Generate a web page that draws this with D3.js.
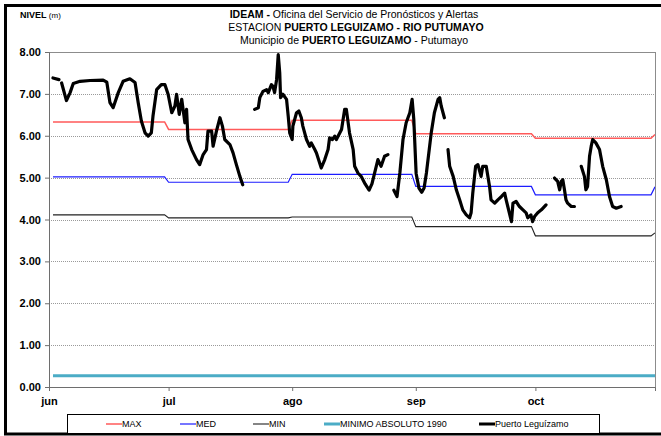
<!DOCTYPE html>
<html>
<head>
<meta charset="utf-8">
<script src="https://cdn.jsdelivr.net/npm/d3@7"></script>
<style>
body { margin: 0; background: #fff; }
svg { display: block; font-family: "Liberation Sans Narrow", "Arial Narrow", "Liberation Sans", sans-serif; }
</style>
</head>
<body>
<div id="chart"></div>
<script>
// month labels on the x axis (first day of each month)
var monthTicks = ['2013-06-01', '2013-07-01', '2013-08-01', '2013-09-01', '2013-10-01'];
var monthNames = ['jun', 'jul', 'ago', 'sep', 'oct'];
var yTicks = [0, 1, 2, 3, 4, 5, 6, 7, 8];

// reference levels, one value per month (last entry = november start)
var levelMonths = ['2013-06-02', '2013-07-01', '2013-08-01', '2013-09-01', '2013-10-01', '2013-10-31'];
var maxLevels = [6.33, 6.15, 6.37, 6.05, 5.94, 6.03];
var medLevels = [5.02, 4.89, 5.08, 4.79, 4.59, 4.78];
var minLevels = [4.11, 4.04, 4.06, 3.83, 3.61, 3.68];
var minAbs1990 = 0.27;

// observed level at Puerto Leguizamo: days since 1 jun, level in m (null = gap)
var obsDay = [1, 2.5, null,
  3.2, 4.4, 5.3, 6.1, 7.8, 10.3, 13.6, 14.5, 15.3, 16.1, 17.4, 18.6, 20.3, 21.6, 22.4, 23.2, 24.1, 24.9, 25.7,
  26.1, 27, 28.2, 29.1, 29.9, 30.8, 31.6, 32, 32.7, 33.3, 34.1, 34.5, 34.9, 35.8, 37, 37.8, 38.7, 39.5, 39.9,
  40.8, 41.2, 42, 42.9, 43.5, 44.1, 45.4, 46.2, 47, 47.9, 48.6, null,
  51.6, 52.5, 52.9, 53.7, 54.6, 55, 55.8, 56.2, 56.6, 57.1, 57.5, 57.9, 58.1, 58.7, 59.6, 60, 60.4, 61, 61.2,
  62.1, 62.7, 63.3, 63.7, 64.6, 65.4, 65.8, 66.7, 67.1, 68.3, 69.2, 70, 70.4, 71.1, 71.7, 72.1, 72.5, 73.4,
  74.2, 74.6, 75.4, 76.3, 76.7, 77.5, 78.3, 79.3, 80.3, 81, 81.7, 82.5, 83.3, 84.2, 85, null,
  86.5, 87.3, 88, 88.8, 89.6, 90.5, 91.1, 91.5, 92.1, 92.8, 93.5, 94.1, 94.7, 95.9, 96.7, 97.6, 98, 98.4, 99.2, null,
  100.1, 100.5, 101.4, 102.2, 103, 103.8, 104.7, 105.5, 105.9, 106.3, 107, 107.6, 108.4, 108.8, 109.7, 110.5,
  110.9, 111.8, 112.6, 113.5, 114.3, 114.7, 116, 116.4, 117.2, 118, 118.9, 119.7, 120.1, 120.9, 121.3, 121.8,
  122.6, 123.5, 124.7, null,
  126.8, 127.6, 128.1, 128.5, 128.9, 129.3, 129.7, 130.1, 131, 131.8, null,
  133.5, 134.3, 134.7, 135.1, 135.6, 136, 136.4, 137.2, 138.1, 138.9, 139.8, 140.6, 141.4, 142.3, 143.5];
var obsLevel = [7.38, 7.34, null,
  7.26, 6.84, 7.03, 7.25, 7.30, 7.32, 7.33, 7.28, 6.79, 6.67, 7.03, 7.30, 7.36, 7.27, 6.79, 6.35, 6.07, 5.99, 6.07,
  6.47, 7.10, 7.22, 7.22, 6.99, 6.55, 6.71, 6.99, 6.51, 6.87, 6.31, 6.63, 5.91, 5.67, 5.43, 5.31, 5.55, 5.67, 6.11,
  6.11, 5.75, 6.11, 6.43, 6.23, 5.91, 5.79, 5.59, 5.31, 5.03, 4.83, null,
  6.63, 6.67, 6.91, 7.06, 7.10, 7.03, 7.22, 7.18, 7.03, 7.34, 7.94, 7.50, 6.91, 6.99, 6.87, 6.47, 6.07, 5.91, 6.23,
  6.55, 6.59, 6.43, 6.23, 5.91, 5.75, 5.83, 5.67, 5.59, 5.23, 5.43, 5.67, 5.95, 5.91, 5.99, 5.91, 5.99, 6.15,
  6.63, 6.63, 6.07, 5.67, 5.27, 5.11, 5.03, 4.85, 4.70, 4.85, 5.11, 5.43, 5.27, 5.51, 5.55, null,
  4.70, 4.55, 5.11, 5.91, 6.31, 6.55, 6.87, 6.39, 5.10, 4.75, 4.65, 4.75, 5.11, 6.07, 6.55, 6.87, 6.91, 6.71, 6.43, null,
  5.67, 5.27, 5.03, 4.71, 4.47, 4.23, 4.11, 4.04, 4.16, 4.63, 5.27, 5.31, 5.03, 5.27, 5.27, 4.79,
  4.47, 4.39, 4.47, 4.55, 4.63, 4.47, 3.95, 4.39, 4.43, 4.31, 4.23, 4.16, 4.04, 4.11, 3.95, 4.07,
  4.16, 4.23, 4.35, null,
  4.99, 4.91, 4.71, 4.91, 4.95, 4.71, 4.47, 4.39, 4.31, 4.31, null,
  5.27, 5.03, 4.71, 4.79, 5.51, 5.75, 5.91, 5.83, 5.67, 5.27, 4.95, 4.55, 4.31, 4.27, 4.31];

var width = 661, height = 436;
var margin = {top: 52, right: 6, bottom: 49, left: 49};
var plotW = width - margin.left - margin.right,
    plotH = height - margin.top - margin.bottom;

var parseDate = d3.timeParse('%Y-%m-%d');
var startDate = parseDate('2013-06-01');

var x = d3.scaleTime()
    .domain([startDate, parseDate('2013-10-31')])
    .range([0, plotW]);
var y = d3.scaleLinear()
    .domain([0, 8])
    .range([plotH, 0]);

var svg = d3.select('#chart').append('svg')
    .attr('width', width)
    .attr('height', height);

svg.append('rect')
    .attr('width', width).attr('height', height)
    .attr('fill', '#fff');

//outer frame
svg.append('rect')
    .attr('x', 5.5).attr('y', 5.5)
    .attr('width', width + 20).attr('height', 428.5)
    .attr('fill', 'none')
    .attr('stroke', '#000')
    .attr('stroke-width', 3);

//TITLES
var title = svg.append('text')
    .attr('text-anchor', 'middle')
    .attr('font-size', 10.5)
    .attr('fill', '#000');
var t1 = title.append('tspan').attr('x', 354).attr('y', 18);
t1.append('tspan').attr('font-weight', 'bold').text('IDEAM - ');
t1.append('tspan').text('Oficina del Servicio de Pronósticos y Alertas');
var t2 = title.append('tspan').attr('x', 356).attr('y', 31);
t2.append('tspan').text('ESTACION ');
t2.append('tspan').attr('font-weight', 'bold').text('PUERTO LEGUIZAMO -  RIO PUTUMAYO');
var t3 = title.append('tspan').attr('x', 354).attr('y', 44);
t3.append('tspan').text('Municipio de ');
t3.append('tspan').attr('font-weight', 'bold').text('PUERTO LEGUIZAMO');
t3.append('tspan').text(' - Putumayo');

var yTitle = svg.append('text')
    .attr('x', 20).attr('y', 18)
    .attr('font-size', 9);
yTitle.append('tspan').attr('font-weight', 'bold').text('NIVEL ');
yTitle.append('tspan').attr('font-size', 8).text('(m)');

var g = svg.append('g')
    .attr('transform', 'translate(' + margin.left + ',' + margin.top + ')');

//gridlines
g.selectAll('.grid')
    .data(yTicks.filter(function(d) { return d > 0 && d < 8; }))
  .enter().append('line')
    .attr('class', 'grid')
    .attr('x1', 0).attr('x2', plotW)
    .attr('y1', function(d) { return Math.round(y(d)) + 0.5; })
    .attr('y2', function(d) { return Math.round(y(d)) + 0.5; })
    .attr('stroke', '#9a9a9a')
    .attr('stroke-dasharray', '1,1');

//plot border
g.append('rect')
    .attr('x', 0.5).attr('y', 0.5)
    .attr('width', plotW).attr('height', plotH)
    .attr('fill', 'none')
    .attr('stroke', '#8c8c8c');

//axes
var yAxis = g.append('g')
    .call(d3.axisLeft(y).tickValues(yTicks).tickSize(4).tickPadding(4)
        .tickFormat(d3.format('.2f')));
var xAxis = g.append('g')
    .attr('transform', 'translate(0,' + plotH + ')')
    .call(d3.axisBottom(x)
        .tickValues(monthTicks.map(parseDate))
        .tickSize(4).tickPadding(4)
        .tickFormat(function(d, i) { return monthNames[i]; }));

[yAxis, xAxis].forEach(function(ax) {
    ax.select('.domain').attr('stroke', '#6e6e6e');
    ax.selectAll('.tick line').attr('stroke', '#6e6e6e');
    ax.selectAll('text')
        .attr('fill', '#000')
        .attr('font-family', '"Liberation Sans Narrow", "Arial Narrow", sans-serif')
        .attr('font-weight', 'bold')
        .attr('font-size', 11);
});
xAxis.selectAll('text').attr('dy', '0.9em');

//clip to plot area
g.append('clipPath').attr('id', 'plot-clip')
  .append('rect').attr('width', plotW).attr('height', plotH);

var plot = g.append('g').attr('clip-path', 'url(#plot-clip)');

//reference series built as monthly steps
function stepPoints(levels) {
    var pts = [];
    levelMonths.forEach(function(m, i) {
        var dt = parseDate(m);
        if (i > 0) pts.push([d3.timeDay.offset(dt, -1), levels[i - 1]]);
        pts.push([dt, levels[i]]);
    });
    return pts;
}

var refLine = d3.line()
    .x(function(d) { return x(d[0]); })
    .y(function(d) { return y(d[1]); });

var refSeries = [
    {levels: maxLevels, color: '#ff5a5a', width: 1.5},
    {levels: medLevels, color: '#1c1cff', width: 1.2},
    {levels: minLevels, color: '#222', width: 1.1}
];

refSeries.forEach(function(s) {
    plot.append('path')
        .datum(stepPoints(s.levels))
        .attr('d', refLine)
        .attr('fill', 'none')
        .attr('stroke', s.color)
        .attr('stroke-width', s.width);
});

plot.append('line')
    .attr('x1', x(parseDate(levelMonths[0]))).attr('x2', plotW)
    .attr('y1', y(minAbs1990)).attr('y2', y(minAbs1990))
    .attr('stroke', '#4bacc6')
    .attr('stroke-width', 3);

//observed water level
var obs = obsDay.map(function(d, i) {
    return {day: d, level: obsLevel[i]};
});
var obsLine = d3.line()
    .defined(function(d) { return d.day !== null && d.level !== null; })
    .x(function(d) { return x(d3.timeHour.offset(startDate, d.day * 24)); })
    .y(function(d) { return y(d.level); });

plot.append('path')
    .datum(obs)
    .attr('d', obsLine)
    .attr('fill', 'none')
    .attr('stroke', '#000')
    .attr('stroke-width', 3.2)
    .attr('stroke-linejoin', 'round')
    .attr('stroke-linecap', 'round');

//LEGEND
var legend = svg.append('g');
legend.append('rect')
    .attr('x', 67.5).attr('y', 414.5)
    .attr('width', 532).attr('height', 19)
    .attr('fill', '#fff')
    .attr('stroke', '#000')
    .attr('stroke-width', 1);

var legendItems = [
    {name: 'MAX', color: '#ff5a5a', width: 1.5, x: 106},
    {name: 'MED', color: '#1c1cff', width: 1.2, x: 180},
    {name: 'MIN', color: '#222', width: 1.1, x: 253},
    {name: 'MINIMO ABSOLUTO 1990', color: '#4bacc6', width: 3, x: 324},
    {name: 'Puerto Leguízamo', color: '#000', width: 3, x: 479}
];

var item = legend.selectAll('.item')
    .data(legendItems)
  .enter().append('g')
    .attr('class', 'item')
    .attr('transform', function(d) { return 'translate(' + d.x + ',424)'; });
item.append('line')
    .attr('x1', 0).attr('x2', 16)
    .attr('stroke', function(d) { return d.color; })
    .attr('stroke-width', function(d) { return d.width; });
item.append('text')
    .attr('x', 16).attr('dy', '0.35em')
    .attr('font-size', 9)
    .text(function(d) { return d.name; });
</script>
</body>
</html>
